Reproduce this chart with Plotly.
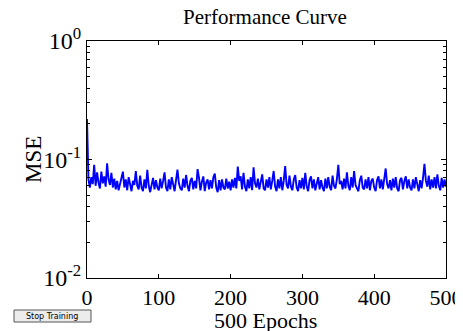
import plotly.graph_objects as go

# MSE, one value every 2 epochs (0..500)
epochs = list(range(0, 501, 2))
mse = [
    0.22, 0.068, 0.058, 0.071, 0.062, 0.09, 0.060, 0.078, 0.064, 0.057, 0.079, 0.063, 0.072, 0.059, 0.093, 0.068, 0.061, 0.077, 0.058, 0.069, 0.056, 0.066, 0.055, 0.064, 0.070,
    0.079, 0.058, 0.068, 0.055, 0.071, 0.059, 0.054, 0.066, 0.061, 0.080, 0.060, 0.056, 0.073, 0.058, 0.054, 0.068, 0.057, 0.082, 0.060, 0.053, 0.064, 0.070, 0.056, 0.067, 0.058,
    0.055, 0.069, 0.057, 0.066, 0.078, 0.058, 0.054, 0.068, 0.056, 0.071, 0.059, 0.054, 0.067, 0.082, 0.063, 0.057, 0.055, 0.069, 0.058, 0.074, 0.060, 0.054, 0.066, 0.070, 0.056,
    0.066, 0.057, 0.083, 0.070, 0.055, 0.065, 0.072, 0.054, 0.064, 0.068, 0.056, 0.067, 0.057, 0.071, 0.076, 0.058, 0.053, 0.067, 0.055, 0.068, 0.058, 0.056, 0.069, 0.057, 0.065,
    0.055, 0.068, 0.058, 0.070, 0.057, 0.087, 0.066, 0.072, 0.056, 0.077, 0.059, 0.054, 0.068, 0.057, 0.071, 0.055, 0.086, 0.063, 0.058, 0.069, 0.056, 0.066, 0.075, 0.057, 0.055,
    0.068, 0.058, 0.071, 0.056, 0.066, 0.080, 0.059, 0.054, 0.068, 0.057, 0.071, 0.055, 0.066, 0.088, 0.061, 0.057, 0.073, 0.059, 0.055, 0.068, 0.074, 0.058, 0.054, 0.067, 0.057,
    0.070, 0.056, 0.077, 0.059, 0.054, 0.067, 0.072, 0.057, 0.068, 0.055, 0.065, 0.071, 0.056, 0.067, 0.058, 0.054, 0.069, 0.057, 0.071, 0.059, 0.055, 0.073, 0.060, 0.057, 0.068,
    0.090, 0.062, 0.066, 0.056, 0.069, 0.057, 0.078, 0.060, 0.055, 0.071, 0.058, 0.080, 0.061, 0.057, 0.054, 0.067, 0.073, 0.058, 0.056, 0.068, 0.057, 0.071, 0.055, 0.066, 0.069,
    0.058, 0.054, 0.067, 0.072, 0.057, 0.068, 0.056, 0.066, 0.084, 0.062, 0.057, 0.067, 0.055, 0.069, 0.058, 0.071, 0.057, 0.054, 0.067, 0.070, 0.056, 0.066, 0.072, 0.057, 0.068,
    0.058, 0.055, 0.068, 0.057, 0.071, 0.059, 0.054, 0.067, 0.057, 0.070, 0.092, 0.066, 0.059, 0.073, 0.056, 0.068, 0.058, 0.071, 0.057, 0.075, 0.060, 0.055, 0.070, 0.058, 0.068, 0.059,
]

x_ticks = [0, 100, 200, 300, 400, 500]
y_ticks = [1, 0.1, 0.01]
y_ticktext = ["10<sup>0</sup>", "10<sup>-1</sup>", "10<sup>-2</sup>"]

SERIF = "Liberation Serif, Times New Roman, serif"

# the page body has an 8 px margin, so the figure is laid out 8 px up/left
OFF = 8
W, H = 463, 331
PL, PR, PT, PB = 87, 446, 41, 278  # plot area in page pixels
PW, PH = PR - PL, PB - PT

fig = go.Figure()
fig.add_trace(go.Scatter(x=epochs, y=mse, mode="lines",
                         line=dict(color="#0000ff", width=1.9),
                         showlegend=False, hoverinfo="skip"))

fig.update_layout(
    width=W, height=H,
    margin=dict(l=PL - OFF, r=W - (PR - OFF), t=PT - OFF, b=H - (PB - OFF), autoexpand=False),
    paper_bgcolor="white", plot_bgcolor="white",
    title=dict(text="Performance Curve", xref="container", x=(265 - OFF) / W, xanchor="center",
               yref="container", y=1 - (17 - OFF) / H, yanchor="middle",
               font=dict(family=SERIF, size=21, color="black")),
    font=dict(family=SERIF, color="black"),
)
fig.update_xaxes(
    range=[0, 500], tickvals=x_ticks, ticks="inside", ticklen=4, tickcolor="black",
    showline=True, linecolor="black", linewidth=1, mirror="ticks", showgrid=False, zeroline=False,
    automargin=False,
    tickfont=dict(family=SERIF, size=22, color="black"),
)
fig.update_yaxes(
    type="log", range=[-2, 0], tickvals=y_ticks, ticktext=y_ticktext,
    ticks="inside", ticklen=5, tickcolor="black",
    minor=dict(ticks="inside", ticklen=3, tickcolor="black", dtick="D1", showgrid=False),
    showline=True, linecolor="black", linewidth=1, mirror="ticks", showgrid=False, zeroline=False,
    automargin=False,
    tickfont=dict(family=SERIF, size=24, color="black"),
)

# axis titles
fig.add_annotation(text="500 Epochs", xref="paper", yref="paper",
                   x=(265 - PL) / PW, y=(PB - 320) / PH, xanchor="center", yanchor="middle",
                   showarrow=False, font=dict(family=SERIF, size=22, color="black"))
fig.add_annotation(text="MSE", xref="paper", yref="paper", textangle=-90,
                   x=(33 - PL) / PW, y=(PB - 160) / PH, xanchor="center", yanchor="middle",
                   showarrow=False, font=dict(family=SERIF, size=23, color="black"))

# "Stop Training" button drawn below the axes
fig.add_shape(type="rect", xref="paper", yref="paper",
              x0=(14 - PL) / PW, x1=(91 - PL) / PW, y0=(PB - 322) / PH, y1=(PB - 310) / PH,
              line=dict(color="#555555", width=1), fillcolor="#ececec")
fig.add_annotation(text="Stop Training", xref="paper", yref="paper",
                   x=(52 - PL) / PW, y=(PB - 316) / PH, xanchor="center", yanchor="middle",
                   showarrow=False,
                   font=dict(family="DejaVu Sans, Arial, sans-serif", size=8, color="black"))

fig.write_html("out.html")
